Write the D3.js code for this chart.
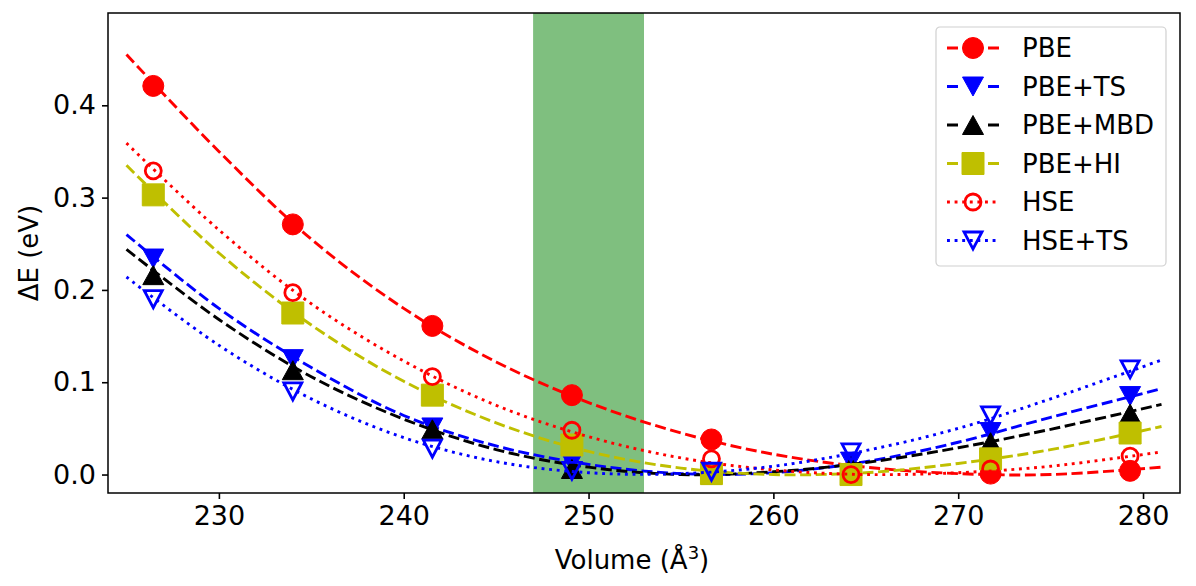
<!DOCTYPE html>
<html>
<head>
<meta charset="utf-8">
<script src="https://cdn.jsdelivr.net/npm/d3@7"></script>
<style>
  body { margin: 0; background: #fff; }
  svg { display: block; font-family: "DejaVu Sans", sans-serif; }
</style>
</head>
<body>
<div id="plot"></div>
<script>
// measured volumes of the computed points
const volumes = [226.45, 234.0, 241.55, 249.1, 256.65, 264.2, 271.75, 279.3];

// ΔE (eV) at each volume
const pbe    = [0.421, 0.271, 0.161, 0.086, 0.038, 0.003, 0.001, 0.004];
const pbeTs  = [0.234, 0.125, 0.051, 0.013, 0.000, 0.014, 0.046, 0.085];
const pbeMbd = [0.216, 0.113, 0.049, 0.006, 0.000, 0.009, 0.035, 0.066];
const pbeHi  = [0.303, 0.175, 0.086, 0.032, 0.001, 0.000, 0.017, 0.045];
const hse    = [0.329, 0.197, 0.106, 0.048, 0.017, 0.000, 0.006, 0.020];
const hseTs  = [0.190, 0.090, 0.028, 0.004, 0.003, 0.024, 0.064, 0.114];

// fitted curves
const fitVolumes = [225, 230, 235, 240, 245, 250, 255, 260, 265, 270, 275, 281];
const pbeFit    = [0.455, 0.350, 0.255, 0.180, 0.122, 0.078, 0.045, 0.022, 0.008, 0.001, 0.000, 0.008];
const pbeTsFit  = [0.260, 0.180, 0.116, 0.064, 0.031, 0.011, 0.001, 0.002, 0.014, 0.035, 0.062, 0.093];
const pbeMbdFit = [0.244, 0.168, 0.106, 0.060, 0.027, 0.008, 0.000, 0.003, 0.013, 0.029, 0.049, 0.076];
const pbeHiFit  = [0.335, 0.240, 0.162, 0.101, 0.056, 0.025, 0.007, 0.000, 0.002, 0.012, 0.027, 0.052];
const hseFit    = [0.359, 0.265, 0.185, 0.123, 0.075, 0.041, 0.018, 0.005, 0.000, 0.002, 0.009, 0.0245];
const hseTsFit  = [0.214, 0.140, 0.082, 0.040, 0.014, 0.002, 0.001, 0.009, 0.026, 0.050, 0.082, 0.124];

const labels = ["PBE", "PBE+TS", "PBE+MBD", "PBE+HI", "HSE", "HSE+TS"];
const band = [247, 253];
const xTicks = [230, 240, 250, 260, 270, 280];
const yTicks = [0.0, 0.1, 0.2, 0.3, 0.4];

const series = [
  {name: labels[0], pts: pbe,    fit: pbeFit,    color: "#ff0000", dotted: false, marker: "circle",   open: false},
  {name: labels[1], pts: pbeTs,  fit: pbeTsFit,  color: "#0000ff", dotted: false, marker: "tri_down", open: false},
  {name: labels[2], pts: pbeMbd, fit: pbeMbdFit, color: "#000000", dotted: false, marker: "tri_up",   open: false},
  {name: labels[3], pts: pbeHi,  fit: pbeHiFit,  color: "#bfbf00", dotted: false, marker: "square",   open: false},
  {name: labels[4], pts: hse,    fit: hseFit,    color: "#ff0000", dotted: true,  marker: "circle",   open: true},
  {name: labels[5], pts: hseTs,  fit: hseTsFit,  color: "#0000ff", dotted: true,  marker: "tri_down", open: true}
];

const W = 1196, H = 586;
const margin = {top: 13, right: 16, bottom: 93, left: 108};
const width = W - margin.left - margin.right,
  height = H - margin.top - margin.bottom;

const svg = d3.select("#plot").append("svg")
  .attr("width", W).attr("height", H)
.append("g")
  .attr("transform", `translate(${margin.left},${margin.top})`);

const x = d3.scaleLinear().domain([224, 282]).range([0, width]);
const y = d3.scaleLinear().domain([-0.02, 0.5]).range([height, 0]);

// shaded volume window
svg.append("rect")
  .attr("x", x(band[0])).attr("y", 0)
  .attr("width", x(band[1]) - x(band[0])).attr("height", height)
  .style("fill", "#7fbf7f");

function markerPath(type, open) {
  if (type === "circle") {
    const r = open ? 8 : 10.5;
    return `M${r},0A${r},${r} 0 1,1 ${-r},0A${r},${r} 0 1,1 ${r},0Z`;
  }
  if (type === "square") { const s = 11; return `M${-s},${-s}H${s}V${s}H${-s}Z`; }
  const hw = open ? 9 : 10.5, hh = open ? 8.5 : 9.5;
  if (type === "tri_down") return `M${-hw},${-hh}L${hw},${-hh}L0,${hh}Z`;
  return `M${-hw},${hh}L${hw},${hh}L0,${-hh}Z`;
}

function drawMarker(sel, s) {
  sel.attr("d", markerPath(s.marker, s.open))
    .style("fill", s.open ? "none" : s.color)
    .style("stroke", s.color)
    .style("stroke-width", s.open ? 2.8 : 1);
}

const line = d3.line()
  .x((d, i) => x(fitVolumes[i]))
  .y(d => y(d))
  .curve(d3.curveCatmullRom.alpha(0.5));

series.forEach(s => {
  svg.append("path")
    .attr("d", line(s.fit))
    .style("fill", "none")
    .style("stroke", s.color)
    .style("stroke-width", 2.9)
    .style("stroke-dasharray", s.dotted ? "2.9,4.7" : "11,4.6");

  svg.selectAll(null)
    .data(s.pts)
    .join("path")
      .attr("transform", (d, i) => `translate(${x(volumes[i])},${y(d)})`)
      .call(drawMarker, s);
});

// axes
const xAxis = svg.append("g")
  .attr("transform", `translate(0,${height})`)
  .call(d3.axisBottom(x).tickValues(xTicks).tickSize(6).tickPadding(7));
const yAxis = svg.append("g")
  .call(d3.axisLeft(y).tickValues(yTicks).tickFormat(d3.format(".1f")).tickSize(6).tickPadding(6));

[xAxis, yAxis].forEach(a => {
  a.select(".domain").remove();
  a.selectAll("line").style("stroke", "#000").style("stroke-width", 1.6);
  a.selectAll("text").style("font-size", "27px").style("fill", "#000")
    .style("font-family", "DejaVu Sans");
});

svg.append("rect")
  .attr("width", width).attr("height", height)
  .style("fill", "none").style("stroke", "#000").style("stroke-width", 1.5);

// axis titles
const xl = svg.append("text")
  .attr("x", width / 2 - 12).attr("y", height + 76)
  .style("text-anchor", "middle").style("font-size", "26px");
xl.append("tspan").text("Volume (Å");
xl.append("tspan").attr("dy", -10).style("font-size", "18px").text("3");
xl.append("tspan").attr("dy", 10).text(")");

svg.append("text")
  .attr("transform", `translate(${38 - margin.left},${height / 2}) rotate(-90)`)
  .style("text-anchor", "middle").style("font-size", "26px")
  .text("ΔE (eV)");

// legend
const legend = svg.append("g")
  .attr("transform", `translate(${936 - margin.left},${27 - margin.top})`);
legend.append("rect")
  .attr("width", 230).attr("height", 239).attr("rx", 4)
  .style("fill", "#fff").style("fill-opacity", 0.8)
  .style("stroke", "#d0d0d0").style("stroke-width", 1.2);

const item = legend.selectAll(".item")
  .data(series)
  .join("g")
    .attr("class", "item")
    .attr("transform", (d, i) => `translate(0,${21 + i * 38.5})`);

item.append("line")
  .attr("x1", 11).attr("x2", 63)
  .style("stroke", d => d.color)
  .style("stroke-width", 2.9)
  .style("stroke-dasharray", d => d.dotted ? "2.9,4.7" : "11,30,11");
item.append("path")
  .attr("transform", "translate(37,0)")
  .each(function(d) { d3.select(this).call(drawMarker, d); });
item.append("text")
  .attr("x", 86).attr("dy", "0.35em")
  .style("font-size", "26px")
  .text(d => d.name);
</script>
</body>
</html>
